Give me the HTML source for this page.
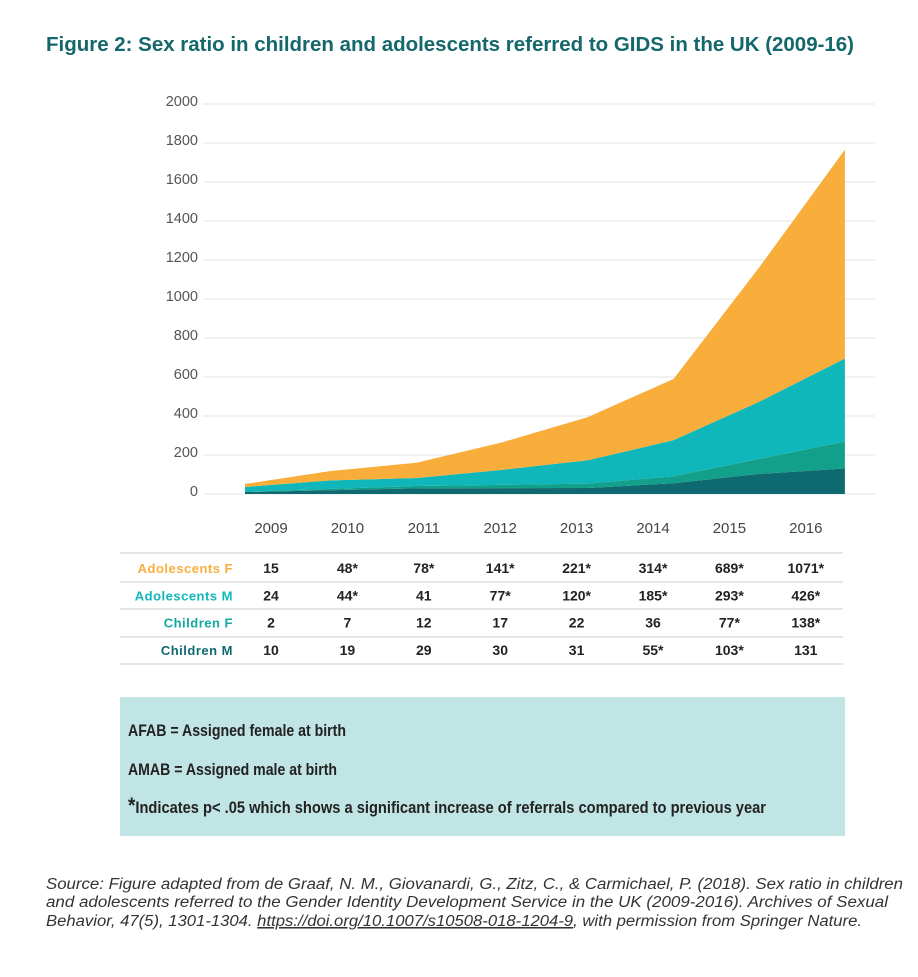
<!DOCTYPE html>
<html><head><meta charset="utf-8">
<style>
body{margin:0;background:#fff;width:918px;height:972px;overflow:hidden;font-family:"Liberation Sans",sans-serif;}
</style></head>
<body>
<svg id="chart" width="918" height="972" viewBox="0 0 918 972" xmlns="http://www.w3.org/2000/svg">
<text x="46" y="51" font-size="20" font-weight="bold" fill="#14676a" textLength="808" lengthAdjust="spacingAndGlyphs">Figure 2: Sex ratio in children and adolescents referred to GIDS in the UK (2009-16)</text>
<g id="grid"></g><g id="areas"></g><g id="xlabels"></g><g id="table"></g>
<rect x="120" y="697" width="725" height="139" fill="#c1e4e4"/>
<g font-family="'Liberation Sans Narrow','Liberation Sans',sans-serif" font-size="17" fill="#222" font-weight="bold">
<text x="128" y="736" textLength="218" lengthAdjust="spacingAndGlyphs">AFAB = Assigned female at birth</text>
<text x="128" y="775" textLength="209" lengthAdjust="spacingAndGlyphs">AMAB = Assigned male at birth</text>
<text x="128" y="813" textLength="638" lengthAdjust="spacingAndGlyphs"><tspan font-size="22">*</tspan>Indicates p&lt; .05 which shows a significant increase of referrals compared to previous year</text>
</g>
<g font-size="15.5" font-style="italic" fill="#333">
<text x="46" y="889" textLength="857" lengthAdjust="spacingAndGlyphs">Source: Figure adapted from de Graaf, N. M., Giovanardi, G., Zitz, C., &amp; Carmichael, P. (2018). Sex ratio in children</text>
<text x="46" y="907" textLength="842" lengthAdjust="spacingAndGlyphs">and adolescents referred to the Gender Identity Development Service in the UK (2009-2016). Archives of Sexual</text>
<text x="46" y="926" textLength="816" lengthAdjust="spacingAndGlyphs">Behavior, 47(5), 1301-1304. <tspan text-decoration="underline">https://doi.org/10.1007/s10508-018-1204-9</tspan>, with permission from Springer Nature.</text>
</g>
</svg>
<script>
const years=[2009,2010,2011,2012,2013,2014,2015,2016];
const adolF=[15,48,78,141,221,314,689,1071];
const adolM=[24,44,41,77,120,185,293,426];
const childF=[2,7,12,17,22,36,77,138];
const childM=[10,19,29,30,31,55,103,131];
const adolFLab=["15","48*","78*","141*","221*","314*","689*","1071*"];
const adolMLab=["24","44*","41","77*","120*","185*","293*","426*"];
const childFLab=["2","7","12","17","22","36","77*","138*"];
const childMLab=["10","19","29","30","31","55*","103*","131"];
const yTicks=[0,200,400,600,800,1000,1200,1400,1600,1800,2000];
const NS="http://www.w3.org/2000/svg";
const x=i=>245+i*85.7;
const lx=i=>271+i*76.4;
const y=v=>494-v*0.195;
function mk(t,a,p){const e=document.createElementNS(NS,t);for(const k in a)e.setAttribute(k,a[k]);p.appendChild(e);return e;}
const grid=document.getElementById('grid');
yTicks.forEach(v=>{
 const l=mk('line',{x1:203,x2:875,y1:y(v),y2:y(v),stroke:'#e6e6e6','stroke-width':1},grid);
 
 
 const t=mk('text',{x:198,y:y(v)+2,'text-anchor':'end','font-size':14.5,fill:'#555'},grid);
 
 
 t.textContent=v;
});
const series=[[childM,'#0e6a70','area-children-m'],[childF,'#12a08a','area-children-f'],[adolM,'#10b7ba','area-adolescents-m'],[adolF,'#f9ae3b','area-adolescents-f']];
const base=years.map(()=>0);
const areas=document.getElementById('areas');
series.forEach(([vals,col,name])=>{
 const top=base.map((b,i)=>b+vals[i]);
 let d='M'+years.map((_,i)=>x(i)+','+y(top[i])).join('L');
 for(let i=years.length-1;i>=0;i--)d+='L'+x(i)+','+y(base[i]);
 const p=mk('path',{d:d+'Z',fill:col},areas);
 
 
 top.forEach((v,i)=>base[i]=v);
});
const xl=document.getElementById('xlabels');
years.forEach((yr,i)=>{
 const t=mk('text',{x:lx(i),y:533,'text-anchor':'middle','font-size':15,fill:'#444'},xl);
 
 
 t.textContent=yr;
});
const tb=document.getElementById('table');
const rows=[['Adolescents F',adolFLab,'#f9ae3b'],['Adolescents M',adolMLab,'#10b7ba'],['Children F',childFLab,'#12a8a0'],['Children M',childMLab,'#0e6a70']];
[553,582,609,637,664].forEach(yy=>{
 const l=mk('line',{x1:120,x2:843,y1:yy,y2:yy,stroke:'#ccc','stroke-width':1},tb);
 
 
});
rows.forEach(([lab,vals,col],r)=>{
 const yy=573+r*27.3;
 const t=mk('text',{x:233,y:yy,'text-anchor':'end','font-size':13,'font-weight':'bold',fill:col,'letter-spacing':'0.5'},tb);
 
 
 t.textContent=lab;
 vals.forEach((v,i)=>{
  const c=mk('text',{x:lx(i),y:yy,'text-anchor':'middle','font-size':14,'font-weight':'bold',fill:'#222'},tb);
  
  
  c.textContent=v;
 });
});
</script>
</body></html>
